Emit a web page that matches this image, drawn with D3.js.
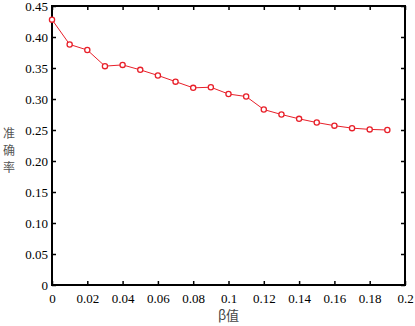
<!DOCTYPE html>
<html>
<head>
<meta charset="utf-8">
<script src="https://cdn.jsdelivr.net/npm/d3@7"></script>
<style>
  body { margin: 0; background: #fff; }
  svg { display: block; }
  .tick text { font-family: "Liberation Serif", "DejaVu Serif", serif; }
</style>
</head>
<body>
<svg id="chart" width="415" height="326"></svg>
<script>
// beta values and accuracy
const betaValues = [0, 0.01, 0.02, 0.03, 0.04, 0.05, 0.06, 0.07, 0.08, 0.09,
    0.10, 0.11, 0.12, 0.13, 0.14, 0.15, 0.16, 0.17, 0.18, 0.19];
const accuracy = [0.428, 0.388, 0.379, 0.353, 0.355, 0.347, 0.338, 0.328, 0.318, 0.319,
    0.308, 0.304, 0.283, 0.275, 0.268, 0.262, 0.257, 0.253, 0.251, 0.250];
const xTicks = [0, 0.02, 0.04, 0.06, 0.08, 0.1, 0.12, 0.14, 0.16, 0.18, 0.2];
const yTicks = [0, 0.05, 0.1, 0.15, 0.2, 0.25, 0.3, 0.35, 0.4, 0.45];

const data = betaValues.map((b, i) => ({ x: b, y: accuracy[i] }));

const svg = d3.select("#chart");
const mLeft = 52, mRight = 405, mTop = 6, mBottom = 285;

const x = d3.scaleLinear().domain([0, 0.2]).range([mLeft, mRight]);
const y = d3.scaleLinear().domain([0, 0.45]).range([mBottom, mTop]);

const fmtX = d => d === 0 ? "0" : String(+d.toFixed(2));
const fmtY = d => d === 0 ? "0" : d.toFixed(2);

// axes, ticks pointing inward, mirrored on top and right
const axisStyle = g => {
    g.attr("font-family", null);
    g.select(".domain").remove();
    g.selectAll(".tick line").attr("stroke", "#000").attr("stroke-width", 1.5);
    g.selectAll(".tick text")
        .style("font-family", "'Liberation Serif', 'DejaVu Serif', serif")
        .style("font-size", "13px")
        .attr("fill", "#000");
};

svg.append("g")
    .attr("transform", `translate(0,${mBottom})`)
    .call(d3.axisBottom(x).tickValues(xTicks).tickFormat(fmtX).tickSizeInner(-4).tickPadding(9))
    .call(axisStyle);

svg.append("g")
    .attr("transform", `translate(0,${mTop})`)
    .call(d3.axisTop(x).tickValues(xTicks).tickFormat("").tickSizeInner(-4))
    .call(axisStyle);

svg.append("g")
    .attr("transform", `translate(${mLeft},0)`)
    .call(d3.axisLeft(y).tickValues(yTicks).tickFormat(fmtY).tickSizeInner(-4).tickPadding(4))
    .call(axisStyle);

svg.append("g")
    .attr("transform", `translate(${mRight},0)`)
    .call(d3.axisRight(y).tickValues(yTicks).tickFormat("").tickSizeInner(-4))
    .call(axisStyle);

// frame
svg.append("rect")
    .attr("x", mLeft).attr("y", mTop)
    .attr("width", mRight - mLeft).attr("height", mBottom - mTop)
    .attr("fill", "none")
    .attr("stroke", "#000")
    .attr("stroke-width", 2);

// line and markers
const line = d3.line().x(d => x(d.x)).y(d => y(d.y));

svg.append("path")
    .datum(data)
    .attr("d", line)
    .attr("fill", "none")
    .attr("stroke", "#e8202a")
    .attr("stroke-width", 1);

svg.append("g")
    .selectAll("circle")
    .data(data)
    .enter().append("circle")
    .attr("cx", d => x(d.x))
    .attr("cy", d => y(d.y))
    .attr("r", 2.6)
    .attr("fill", "#fff")
    .attr("stroke", "#e8202a")
    .attr("stroke-width", 1.3);

// axis titles
svg.append("text")
    .attr("x", (mLeft + mRight) / 2)
    .attr("y", 320)
    .attr("text-anchor", "middle")
    .style("font-family", "'Noto Sans CJK SC', sans-serif")
    .style("font-size", "13px")
    .attr("fill", "#444")
    .text("β值");

const yTitle = svg.append("text")
    .style("font-family", "'Noto Sans CJK SC', sans-serif")
    .style("font-size", "12px")
    .attr("fill", "#555")
    .attr("text-anchor", "middle");

["准", "确", "率"].forEach((ch, i) => {
    yTitle.append("tspan")
        .attr("x", 9)
        .attr("y", 138 + i * 17)
        .text(ch);
});
</script>
</body>
</html>
